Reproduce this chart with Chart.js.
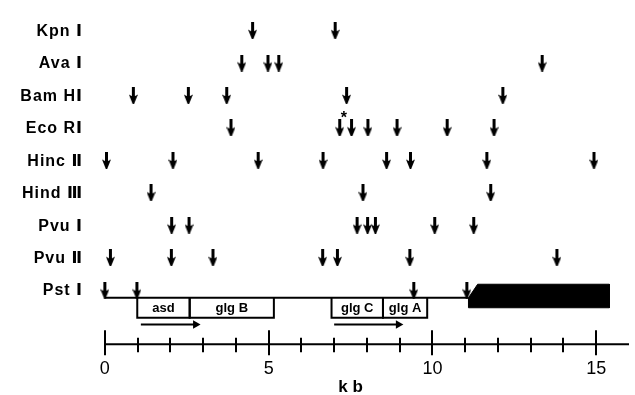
<!DOCTYPE html>
<html>
<head>
<meta charset="utf-8">
<script src="https://cdn.jsdelivr.net/npm/chart.js@4/dist/chart.umd.min.js"></script>
<style>
  html, body { margin: 0; padding: 0; background: #fff; }
  #wrap { width: 635px; height: 395px; }
</style>
</head>
<body>
<div id="wrap"><canvas id="map"></canvas></div>
<script>
// restriction map rows (top to bottom)
var enzymes = ['Kpn \u2160', 'Ava \u2160', 'Bam H\u2160', 'Eco R\u2160', 'Hinc \u2161', 'Hind \u2162', 'Pvu \u2160', 'Pvu \u2161', 'Pst \u2160'];
var kpnI    = [4.51, 7.03];
var avaI    = [4.18, 4.98, 5.31, 13.35];
var bamHI   = [0.87, 2.55, 3.72, 7.38, 12.15];
var ecoRI   = [3.85, 7.17, 7.53, 8.03, 8.92, 10.45, 11.88];
var hincII  = [0.05, 2.08, 4.68, 6.66, 8.6, 9.33, 11.66, 14.93];
var hindIII = [1.41, 7.88, 11.78];
var pvuI    = [2.04, 2.57, 7.70, 8.02, 8.26, 10.07, 11.26];
var pvuII   = [0.17, 2.03, 3.30, 6.65, 7.10, 9.31, 13.80];
var pstI    = [0, 0.98, 9.43, 11.05];
var sites = [kpnI, avaI, bamHI, ecoRI, hincII, hindIII, pvuI, pvuII, pstI];

// genes under the map
var geneNames  = ['asd', 'glg B', 'glg C', 'glg A'];
var geneStarts = [0.99, 2.59, 6.92, 8.49];
var geneEnds   = [2.59, 5.16, 8.49, 9.84];
var operonStarts = [1.1, 7.0];
var operonEnds   = [2.77, 8.96];

var mapStart = 0, mapEnd = 11.1;
var insertStart = 11.1, insertEnd = 15.4;
var starredSite = 7.3; // asterisk over EcoRI pair

var tickLabels = [0, 5, 10, 15];
var minorTicks = [0, 1, 2, 3, 4, 5, 6, 7, 8, 9, 10, 11, 12, 13, 14, 15];

// vertical layout, in row units
var lineRow = 8.24, boxRow = 8.85, operonRow = 9.06, axisRow = 9.667;
var insertTop = 7.82, insertBottom = 8.545;

var FONT = '"Liberation Sans", "DejaVu Sans", sans-serif';

function makeArrow() {
  var c = document.createElement('canvas');
  c.width = 9; c.height = 17;
  var g = c.getContext('2d');
  g.fillStyle = '#000';
  g.fillRect(3, 0, 3, 10);
  g.beginPath();
  g.moveTo(0, 7.5);
  g.lineTo(4.5, 10);
  g.lineTo(9, 7.5);
  g.lineTo(5.2, 17);
  g.lineTo(3.8, 17);
  g.closePath();
  g.fill();
  return c;
}
var arrowImg = makeArrow();

var datasets = [];
sites.forEach(function(list, row) {
  datasets.push({
    data: list.map(function(v) { return {x: v, y: row}; }),
    pointStyle: arrowImg,
    pointRadius: 5,
    showLine: false
  });
});

// map line
datasets.push({
  data: [{x: mapStart, y: lineRow}, {x: mapEnd, y: lineRow}],
  showLine: true, borderColor: '#000', borderWidth: 2, pointRadius: 0
});

// gene boxes
geneNames.forEach(function(n, i) {
  datasets.push({
    data: [{x: geneStarts[i], y: lineRow}, {x: geneStarts[i], y: boxRow},
           {x: geneEnds[i], y: boxRow}, {x: geneEnds[i], y: lineRow}],
    showLine: true, borderColor: '#000', borderWidth: 2, pointRadius: 0, tension: 0
  });
});

// transcription arrows
operonStarts.forEach(function(s, i) {
  datasets.push({
    data: [{x: s, y: operonRow}, {x: operonEnds[i], y: operonRow}],
    showLine: true, borderColor: '#000', borderWidth: 2,
    pointRadius: [0, 5], pointStyle: 'triangle', rotation: 90,
    backgroundColor: '#000', pointBorderWidth: 0
  });
});

// black insert
datasets.push({
  data: [{x: insertStart, y: insertBottom}, {x: insertStart, y: lineRow},
         {x: insertStart + 0.28, y: insertTop}, {x: insertEnd, y: insertTop},
         {x: insertEnd, y: insertBottom}, {x: insertStart, y: insertBottom}],
  showLine: true, borderColor: '#000', borderWidth: 1, backgroundColor: '#000',
  fill: 'shape', pointRadius: 0, tension: 0
});

var mapDecor = {
  id: 'mapDecor',
  afterDatasetsDraw: function(chart) {
    var ctx = chart.ctx, xs = chart.scales.x, ys = chart.scales.y;
    var ay = ys.getPixelForValue(axisRow);
    ctx.save();
    ctx.strokeStyle = '#000';
    ctx.lineWidth = 2;
    ctx.beginPath();
    ctx.moveTo(xs.getPixelForValue(0), ay);
    ctx.lineTo(chart.chartArea.right, ay);
    ctx.stroke();
    minorTicks.forEach(function(k) {
      var px = Math.round(xs.getPixelForValue(k));
      var major = tickLabels.indexOf(k) >= 0;
      ctx.beginPath();
      ctx.moveTo(px, ay - (major ? 14 : 6.5));
      ctx.lineTo(px, ay + (major ? 11 : 8));
      ctx.stroke();
    });

    ctx.fillStyle = '#000';

    // enzyme names, right aligned beside their rows
    ctx.textAlign = 'right';
    ctx.textBaseline = 'middle';
    ctx.font = 'bold 16px ' + FONT;
    ctx.letterSpacing = '1px';
    enzymes.forEach(function(e, i) {
      ctx.fillText(e, 83, ys.getPixelForValue(i) + 1);
    });
    ctx.letterSpacing = '0px';

    ctx.textAlign = 'center';
    ctx.font = 'bold 13px ' + FONT;
    var gy = (ys.getPixelForValue(lineRow) + ys.getPixelForValue(boxRow)) / 2 + 1;
    geneNames.forEach(function(n, i) {
      var cx = (xs.getPixelForValue(geneStarts[i]) + xs.getPixelForValue(geneEnds[i])) / 2;
      ctx.fillText(n, cx, gy);
    });

    ctx.font = 'bold 16px ' + FONT;
    ctx.fillText('*', xs.getPixelForValue(starredSite), ys.getPixelForValue(2.72));

    ctx.font = 'bold 17px ' + FONT;
    ctx.fillText('k b', xs.getPixelForValue(7.5), 387);
    ctx.restore();
  }
};

new Chart(document.getElementById('map'), {
  type: 'scatter',
  data: { datasets: datasets },
  options: {
    responsive: true,
    maintainAspectRatio: false,
    animation: false,
    layout: { padding: 0 },
    plugins: { legend: { display: false }, tooltip: { enabled: false } },
    scales: {
      x: {
        type: 'linear', min: -0.3, max: 16.0,
        grid: { display: false, drawTicks: false },
        border: { display: false },
        afterBuildTicks: function(s) { s.ticks = tickLabels.map(function(v) { return {value: v}; }); },
        afterFit: function(s) { s.height = 43; },
        ticks: { padding: 6, maxRotation: 0, color: '#000', font: { family: FONT, size: 18 } }
      },
      y: {
        type: 'linear', reverse: true, min: -0.758, max: 9.909,
        grid: { display: false, drawTicks: false },
        border: { display: false },
        afterFit: function(s) { s.width = 95; },
        ticks: { display: false }
      }
    }
  },
  plugins: [mapDecor]
});
</script>
</body>
</html>
